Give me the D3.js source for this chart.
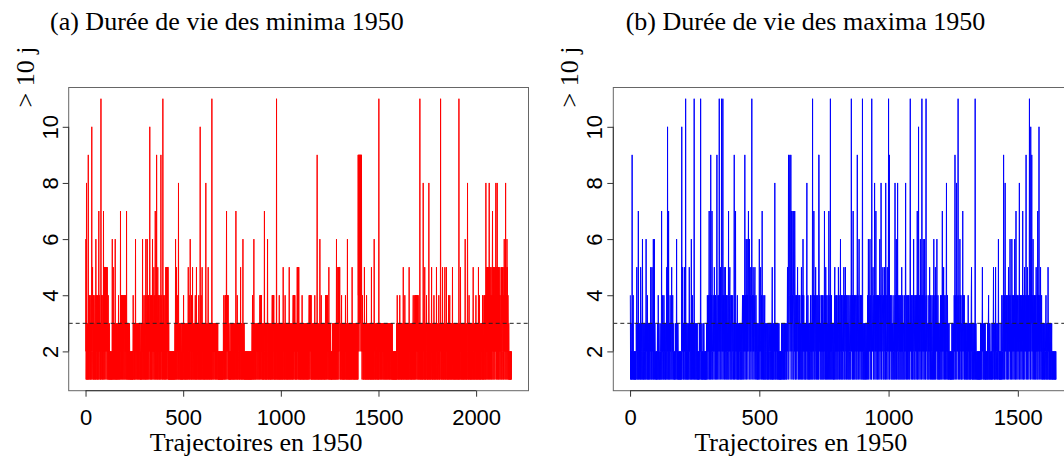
<!DOCTYPE html>
<html><head><meta charset="utf-8">
<script src="https://cdn.jsdelivr.net/npm/d3@7"></script>
<style>html,body{margin:0;padding:0;background:#fff;overflow:hidden}</style>
</head><body><svg id="chart" width="1064" height="457"></svg>
<script>
// Lifetime (days) of each minima trajectory, 1950
const minimaValues = [
2,6,1,2,8,1,2,3,1,2,1,3,2,9,1,4,2,1,4,2,3,1,4,2,1,3,2,4,1,2,3,10,1,2,4,5,2,1,3,4,1,2,4,3,1,2,3,1,4,2,
1,3,6,2,1,4,2,3,1,2,4,1,2,3,1,4,2,7,1,3,2,4,4,1,2,3,1,2,11,2,1,4,3,2,4,1,3,2,1,4,2,7,1,5,2,5,4,1,5,5,
2,5,4,1,5,2,5,3,5,1,5,2,3,1,2,4,1,3,2,1,2,3,1,2,1,2,1,1,2,1,2,1,1,2,1,2,6,1,2,3,1,5,2,1,3,2,1,3,2,1,
3,6,1,2,3,1,2,1,3,2,1,3,2,1,2,3,1,2,4,1,2,3,1,3,2,1,3,2,7,1,3,2,4,1,4,2,3,4,1,4,2,4,1,3,4,2,1,4,3,4,
1,4,2,3,4,1,3,2,1,7,2,3,1,2,3,1,2,3,1,2,3,1,2,1,3,2,1,2,1,1,2,1,2,1,1,2,1,2,1,2,1,2,1,4,2,3,1,2,3,1,
2,3,1,2,3,6,1,3,2,3,3,1,3,2,3,1,3,3,2,3,1,3,2,3,1,3,3,2,1,2,1,2,3,1,2,1,3,2,1,3,2,6,1,3,2,1,3,2,4,1,
3,2,1,3,4,2,1,3,6,1,2,3,1,4,2,6,1,3,2,4,1,3,4,2,1,3,2,3,10,1,2,3,4,1,3,2,1,4,2,3,1,3,6,2,4,1,3,2,4,5,
1,3,2,4,1,3,7,2,1,4,3,2,1,9,2,4,3,1,2,5,1,3,2,4,1,3,4,2,1,3,2,4,1,3,2,9,1,3,2,4,4,1,2,3,1,11,2,3,1,4,
2,3,3,1,2,4,1,3,2,1,5,2,5,4,1,5,3,5,2,5,1,5,5,2,1,3,1,2,1,2,1,2,1,1,2,1,2,1,2,1,2,1,1,2,1,2,1,2,1,2,
1,2,1,1,2,1,2,3,1,2,6,1,3,2,1,5,2,3,1,4,2,3,1,2,3,8,1,3,2,1,3,2,3,1,2,3,1,2,1,3,2,1,2,1,2,3,1,2,1,3,
2,4,1,3,2,1,3,2,1,3,2,1,3,2,1,2,3,1,2,3,1,2,3,1,3,5,2,1,3,2,4,1,3,2,1,6,2,3,1,2,3,1,4,2,1,3,2,5,1,3,
2,1,3,2,3,1,2,3,1,2,3,4,1,2,3,1,2,5,1,3,2,1,3,3,2,1,3,2,1,4,2,3,1,2,3,1,10,2,1,3,2,4,1,3,2,1,5,2,3,1,
2,3,1,3,2,1,3,2,1,3,2,1,3,2,1,8,2,3,1,2,3,1,2,3,1,2,3,5,1,2,3,1,2,3,1,2,3,2,1,3,2,1,3,2,1,3,11,2,1,3,
2,3,1,3,2,3,1,3,3,2,3,1,3,2,3,1,3,2,3,1,3,2,3,1,3,2,3,1,2,1,2,1,2,1,1,2,1,2,1,2,1,1,2,1,2,1,2,1,1,2,
1,2,1,2,1,3,2,4,1,3,2,1,3,2,4,1,4,2,4,1,4,7,2,4,1,4,3,4,2,4,1,3,2,1,3,2,1,2,1,2,1,2,1,3,2,1,3,2,1,3,
2,1,3,2,1,3,2,1,3,2,1,3,2,1,3,2,1,3,2,7,1,3,2,1,3,2,4,1,3,2,1,3,3,2,1,3,2,1,3,2,1,3,2,5,1,3,2,1,3,2,
1,3,2,1,3,6,2,1,3,2,1,3,2,1,2,1,2,1,1,2,1,2,1,2,1,1,2,1,2,1,2,1,1,2,1,2,1,2,1,1,2,1,2,1,2,1,1,2,1,2,
1,2,3,1,4,2,1,3,2,1,3,6,2,1,3,2,1,3,3,2,1,3,2,1,3,3,2,3,1,3,2,3,1,3,2,3,1,3,2,3,1,3,4,2,4,1,4,3,4,2,
4,1,3,2,1,3,2,1,3,2,1,3,2,1,3,7,2,1,3,2,1,3,2,1,3,2,1,3,2,1,3,6,2,1,3,2,1,3,2,3,1,2,3,1,2,3,1,2,3,1,
2,3,1,2,3,4,1,4,2,4,1,4,3,4,1,2,3,1,2,3,1,2,3,1,2,3,1,11,2,3,1,2,3,1,2,3,1,2,3,1,2,4,1,3,2,1,3,2,1,3,
2,1,3,2,1,3,2,1,3,2,1,5,2,3,1,2,3,1,2,3,1,4,2,3,1,2,3,1,2,3,1,3,2,1,3,2,1,3,2,1,3,2,5,1,3,2,1,3,2,1,
3,2,3,1,2,3,1,2,3,1,2,3,4,1,4,2,4,1,3,4,2,4,1,3,2,1,3,2,1,3,2,1,3,5,2,5,1,5,2,5,1,5,2,3,1,2,3,1,2,3,
1,2,3,1,2,3,1,2,4,1,3,2,1,3,2,1,3,2,1,3,2,1,3,2,1,3,2,1,3,2,1,3,2,1,3,2,1,3,2,1,3,2,1,3,4,2,4,1,4,3,
4,2,4,1,4,2,1,3,2,1,3,3,1,2,3,1,2,3,1,2,3,1,2,4,1,3,2,1,3,2,1,3,2,1,3,9,1,3,2,1,3,2,1,3,2,1,3,2,1,6,
2,1,3,2,1,3,4,1,3,2,1,3,2,1,3,2,3,1,2,3,1,2,3,1,2,3,1,2,4,1,4,2,4,1,3,4,2,4,4,1,3,2,1,3,2,5,1,3,2,1,
3,2,1,3,2,1,2,1,1,2,1,2,1,3,2,1,3,3,2,1,3,2,1,3,2,1,3,2,1,3,2,1,3,2,6,1,3,2,1,3,2,5,1,5,2,5,4,1,5,3,
5,5,2,3,1,2,3,1,2,3,4,1,3,2,1,3,2,1,3,2,1,3,2,1,3,2,1,3,2,1,4,2,3,1,2,3,1,2,3,1,6,2,1,3,2,1,3,2,1,3,
2,1,3,2,1,3,2,1,3,2,1,3,2,1,5,2,3,1,2,3,1,2,3,1,2,3,1,2,3,1,2,3,1,2,3,1,2,3,1,2,3,1,2,3,1,9,4,9,2,9,
9,3,9,4,9,2,9,9,3,9,4,9,9,2,3,1,3,4,2,3,1,2,3,1,2,3,1,5,2,3,1,2,3,1,2,3,1,2,4,1,3,2,1,3,2,1,3,2,1,3,
2,3,1,2,3,1,2,3,1,2,3,1,2,5,1,3,2,1,3,2,1,3,2,1,3,2,1,6,2,3,1,2,3,1,2,3,1,2,3,3,1,2,3,1,2,3,1,2,3,1,
2,11,1,3,2,3,1,3,2,3,1,3,2,3,1,3,2,3,1,3,2,3,1,3,2,3,1,2,3,1,3,2,3,1,3,2,1,3,2,3,1,3,2,3,1,3,2,1,3,2,
3,1,3,2,3,1,2,3,1,3,2,3,1,2,3,1,3,2,1,2,3,1,2,1,2,1,1,2,1,2,1,2,1,1,2,1,2,1,2,1,2,1,3,2,1,4,2,3,1,2,
3,1,2,3,1,2,3,1,4,2,3,1,2,3,1,3,2,1,3,2,1,3,2,1,3,2,5,1,3,2,1,3,2,1,4,2,3,1,2,3,1,2,3,1,2,3,1,2,3,1,
2,3,1,2,3,1,5,2,3,1,2,3,1,2,3,1,2,3,1,2,3,1,2,3,1,2,3,4,1,3,2,1,3,2,1,4,2,4,1,4,3,4,1,4,2,4,3,1,4,2,
4,1,4,2,3,1,2,3,1,2,3,11,1,3,2,1,3,2,1,3,2,1,3,2,1,3,2,1,8,2,3,1,2,3,1,2,5,1,3,2,1,3,2,1,3,4,2,1,3,2,
1,3,2,1,3,2,1,8,2,3,1,2,3,1,2,3,1,2,3,1,3,5,2,1,3,2,1,3,2,1,3,2,1,4,2,3,1,2,3,1,2,3,1,2,3,1,5,2,3,1,
2,3,1,2,3,1,2,3,4,1,3,2,1,3,2,1,3,11,2,3,1,2,3,1,2,3,1,5,2,3,1,2,3,1,2,3,1,2,3,5,1,3,2,1,3,2,1,5,2,3,
1,2,3,1,2,3,1,2,4,1,3,2,1,3,4,2,1,3,2,1,3,2,1,3,2,1,3,2,5,1,3,2,1,3,2,1,3,2,1,3,3,1,2,3,1,2,3,1,2,3,
1,2,3,1,2,3,1,2,3,1,2,11,1,3,2,1,3,2,1,5,2,3,1,2,3,1,2,3,1,2,3,1,2,3,1,2,3,1,2,3,1,2,3,6,1,3,2,1,3,2,
1,3,2,1,3,8,2,1,3,2,1,3,2,4,1,3,2,1,3,2,1,3,2,1,3,2,1,3,2,1,3,2,1,3,5,2,1,3,2,1,3,2,1,3,2,1,3,2,4,1,
3,2,1,3,2,1,3,2,1,3,2,5,1,3,2,1,4,2,1,3,2,1,3,2,1,3,2,3,1,2,3,1,4,2,1,3,2,1,3,4,2,1,3,4,2,1,4,3,1,8,
2,3,5,1,3,4,2,5,1,5,2,4,5,1,4,2,8,1,5,3,2,5,1,4,3,2,5,1,3,4,2,1,5,7,2,4,1,5,4,2,5,1,5,2,4,3,1,5,2,4,
8,2,5,1,3,5,2,8,1,5,3,2,4,1,5,2,5,1,3,4,2,5,1,3,3,2,4,1,3,5,2,1,4,3,5,2,1,3,4,2,1,5,3,6,2,4,1,3,5,2,
8,1,5,2,3,4,1,6,2,5,3,1,4,3,2,1,3,2,1,2,1,2,2,1,2,1,2,1,2,1,2
];
// Lifetime (days) of each maxima trajectory, 1950
const maximaValues = [
4,1,2,3,1,2,1,9,1,3,2,4,1,2,1,2,1,2,1,2,1,2,1,3,2,5,1,3,2,1,3,7,1,2,3,3,1,2,3,1,5,2,1,3,2,1,3,6,1,2,
3,1,2,3,1,2,3,1,2,3,1,6,2,3,1,2,4,1,3,2,1,3,2,1,3,2,1,3,2,5,1,3,2,1,5,2,3,1,2,6,1,3,2,6,1,3,2,1,2,2,
1,2,1,2,1,3,2,1,4,2,1,3,2,1,2,2,1,2,3,1,2,7,1,3,2,4,1,3,2,1,4,2,3,1,2,3,1,2,3,1,3,5,2,1,10,2,3,1,7,2,
1,3,2,1,4,2,3,1,2,3,5,1,3,2,4,1,3,2,1,2,2,1,2,1,3,2,1,3,2,6,1,3,2,1,3,2,1,2,1,2,1,2,2,1,2,1,2,1,2,10,
1,3,5,2,3,1,3,2,1,5,2,3,1,2,11,1,3,2,1,3,3,1,2,3,1,2,3,1,5,2,3,1,2,3,1,2,6,1,3,2,4,1,3,2,1,3,2,11,1,3,
2,1,3,3,1,2,3,1,2,3,1,2,1,2,1,2,1,3,2,1,3,2,11,1,3,2,1,2,1,2,1,3,2,1,3,3,1,2,1,2,1,2,1,2,1,3,2,1,4,2,
3,1,4,2,3,7,1,3,4,2,1,9,3,2,4,1,7,3,2,1,4,4,2,3,1,5,3,2,4,1,4,2,3,1,4,9,2,3,1,4,2,3,4,1,11,3,2,4,1,5,
3,2,4,11,1,4,3,2,11,1,3,4,2,5,1,3,4,2,5,1,3,2,4,1,3,4,2,1,3,2,7,1,3,2,4,5,1,3,2,4,1,4,3,2,1,3,4,2,3,1,
2,3,9,1,3,2,4,7,1,3,2,3,1,2,4,1,3,2,1,3,2,1,3,2,3,1,2,3,1,2,3,1,2,3,4,1,3,2,4,1,3,4,2,9,1,4,3,2,6,1,
4,3,6,2,4,1,5,7,3,2,4,6,1,3,4,2,5,1,3,4,11,2,3,4,1,5,3,2,4,1,3,4,5,2,3,1,4,2,3,1,2,3,1,2,3,1,2,3,1,6,
2,3,1,4,5,2,3,1,4,2,7,1,3,2,4,1,3,2,1,3,4,1,2,3,1,2,3,3,1,2,3,1,2,3,1,2,3,1,2,3,3,1,2,3,1,2,3,1,3,5,
1,3,2,1,3,2,1,3,2,8,1,3,2,1,3,2,3,1,2,3,1,2,3,1,2,3,1,2,1,2,1,2,1,2,1,3,2,1,3,2,1,3,2,1,3,2,1,3,2,1,
3,2,3,1,2,3,1,3,5,2,3,4,9,1,3,4,7,9,2,4,3,9,1,7,4,2,7,3,4,1,3,4,7,1,3,2,7,4,4,1,4,3,2,4,1,3,3,5,2,4,
1,3,2,4,1,3,4,2,3,1,2,3,5,1,3,2,4,1,6,3,2,4,1,3,2,3,1,2,3,1,3,2,4,8,1,3,2,4,1,3,2,1,3,2,1,3,2,4,1,3,
2,3,1,4,2,11,1,3,4,2,7,1,3,4,2,1,3,5,2,3,1,4,2,3,1,4,2,3,1,9,9,2,3,4,1,3,2,3,1,4,2,3,1,4,2,3,1,3,2,4,
1,7,3,2,4,1,5,2,3,1,4,2,3,1,2,4,3,1,7,2,3,1,4,2,11,1,3,2,4,1,2,3,3,1,2,3,1,2,3,1,4,5,1,3,2,4,1,4,2,3,
1,3,2,4,1,5,3,2,4,1,3,2,4,6,1,3,2,4,1,4,3,2,1,4,3,2,5,1,3,4,2,1,5,3,2,4,1,3,4,2,3,1,4,2,3,1,4,3,2,1,
3,4,2,1,3,11,2,4,3,1,4,2,7,1,3,4,2,4,1,3,2,4,4,1,3,2,4,1,9,3,2,4,1,3,4,6,2,3,1,4,2,4,3,1,4,2,3,1,11,2,
3,1,2,3,1,2,3,1,2,3,1,2,3,3,1,2,3,1,4,2,3,6,1,4,3,2,4,6,1,3,4,2,3,1,11,4,3,2,4,5,1,3,4,2,3,8,1,4,3,2,
7,1,4,3,2,4,1,4,3,2,4,1,3,2,4,6,1,3,4,2,8,3,1,4,2,3,4,5,1,3,4,2,1,5,3,2,4,1,8,3,4,2,1,3,5,2,4,1,3,11,
2,4,9,1,3,4,2,3,4,1,3,2,4,1,3,2,3,1,2,3,4,1,3,2,8,1,4,3,2,6,1,3,4,2,8,1,3,4,2,1,3,2,4,1,3,2,4,1,3,2,
5,1,3,2,4,1,3,3,2,1,4,2,3,1,4,8,2,3,1,4,2,3,1,4,3,2,4,1,4,2,3,1,4,11,2,3,4,1,3,4,2,3,1,4,2,3,6,1,4,3,
2,1,4,3,2,4,1,3,4,2,7,1,4,3,2,10,1,4,3,2,4,1,6,3,2,4,1,3,11,2,4,3,1,6,2,4,3,1,6,2,4,3,1,4,11,2,3,4,1,3,
3,2,1,3,2,4,1,3,5,2,3,1,4,2,3,1,2,4,3,1,2,3,4,1,6,2,3,1,4,2,5,1,3,4,2,3,6,1,3,2,4,1,3,2,1,3,2,1,3,2,
4,1,3,2,4,1,3,7,2,4,1,3,5,2,4,1,3,2,4,1,3,2,4,8,1,3,2,4,1,3,3,1,2,3,1,2,2,1,2,1,2,1,2,1,3,2,1,3,3,1,
2,3,1,4,2,3,9,1,3,4,2,3,8,1,4,3,2,4,11,1,3,4,2,3,1,6,2,4,3,1,2,3,1,4,2,3,7,1,3,4,2,3,4,1,3,2,1,3,2,3,
1,2,3,1,2,3,1,4,2,3,1,2,3,1,3,2,1,3,2,4,5,1,3,2,1,3,3,1,2,3,1,2,3,1,11,2,1,3,2,1,2,2,1,2,1,2,1,2,1,2,
1,2,1,2,1,3,2,1,3,2,1,3,5,2,3,1,2,3,1,2,3,1,2,3,1,2,1,2,2,1,2,1,3,2,1,3,4,1,3,2,1,3,2,1,2,2,1,2,1,3,
2,1,3,2,3,5,1,3,2,1,3,2,1,5,2,3,1,2,3,3,1,2,3,1,6,2,3,1,2,1,2,1,2,1,3,2,1,4,3,1,2,3,4,1,9,3,2,4,1,3,
8,2,3,4,1,3,4,2,3,1,4,3,2,5,1,3,4,2,3,6,1,3,4,2,3,1,6,3,2,4,1,3,4,2,3,1,3,6,2,4,1,3,7,2,4,1,3,2,4,4,
1,3,2,4,3,8,1,4,3,2,4,1,4,3,2,4,1,3,7,2,4,1,3,4,2,5,1,3,4,2,3,9,1,4,3,2,5,1,4,3,2,4,1,3,11,2,4,3,1,10,
2,4,3,9,1,4,3,2,6,1,3,4,2,4,1,3,2,4,1,3,5,2,3,1,4,2,7,1,3,4,2,10,1,3,4,2,3,5,1,3,2,4,1,3,2,1,3,2,1,3,
2,3,1,2,3,1,2,3,4,1,3,2,1,3,2,1,5,2,3,1,2,3,1,2,3,1,2,3,1,2,3,1,2,1,2,2,1,2,1,2,2,1,2,1,2,1,2,1
];
const minimaTicks = [0, 500, 1000, 1500, 2000];
const maximaTicks = [0, 500, 1000, 1500];
const yTicks = [2, 4, 6, 8, 10];
const thresholdValue = [3];
const panelTitles = ["(a) Durée de vie des minima 1950", "(b) Durée de vie des maxima 1950"];
const xTitle = "Trajectoires en 1950";
const yTitle = "> 10 j";

const serif = "'Liberation Serif','Times New Roman',serif";
const sans = "'Liberation Sans',Arial,Helvetica,sans-serif";

const svg = d3.select("#chart");
svg.append("rect").attr("width", 1064).attr("height", 457).attr("fill", "#fff");

const boxW = 459.8, boxTop = 87.5, boxBottom = 390.7;
const y = d3.scaleLinear().domain([0.6, 11.4]).range([boxBottom, boxTop]);

const panels = [
  {values: minimaValues, ticks: minimaTicks, color: "#ff0000", left: 68.7, title: panelTitles[0], titleX: 50},
  {values: maximaValues, ticks: maximaTicks, color: "#0000ff", left: 613.3, title: panelTitles[1], titleX: 625.7}
];

panels.forEach(p => {
  const n = p.values.length;
  const pad = 0.04 * (n - 1);
  const x = d3.scaleLinear().domain([1 - pad, n + pad]).range([p.left, p.left + boxW]);
  const g = svg.append("g");

  const line = d3.line().x((d, i) => x(i + 1)).y(d => y(d));
  g.append("path").datum(p.values).attr("d", line)
    .attr("fill", "none").attr("stroke", p.color).attr("stroke-width", 1);

  g.selectAll("line.thr").data(thresholdValue).enter().append("line").attr("class", "thr")
    .attr("x1", p.left).attr("x2", p.left + boxW)
    .attr("y1", d => y(d)).attr("y2", d => y(d))
    .attr("stroke", "#222").attr("stroke-width", 1).attr("stroke-dasharray", "4,3");

  g.append("rect").attr("x", p.left).attr("y", boxTop)
    .attr("width", boxW).attr("height", boxBottom - boxTop)
    .attr("fill", "none").attr("stroke", "#666").attr("stroke-width", 1);

  // x axis
  const xa = g.append("g").attr("transform", `translate(0,${boxBottom})`)
    .call(d3.axisBottom(x).tickValues(p.ticks).tickSize(6).tickSizeOuter(0).tickFormat(d3.format("d")));
  xa.select(".domain").attr("d", `M${x(p.ticks[0])},0H${x(p.ticks[p.ticks.length - 1])}`)
    .attr("stroke", "#333");
  xa.selectAll(".tick line").attr("stroke", "#333");
  xa.selectAll(".tick text").attr("y", 34.3).attr("dy", null)
    .attr("font-family", sans).attr("font-size", 22).attr("fill", "#000");

  // y axis
  const ya = g.append("g").attr("transform", `translate(${p.left},0)`)
    .call(d3.axisLeft(y).tickValues(yTicks).tickSize(6).tickSizeOuter(0));
  ya.select(".domain").attr("d", `M0,${y(yTicks[0])}V${y(yTicks[yTicks.length - 1])}`)
    .attr("stroke", "#333");
  ya.selectAll(".tick line").attr("stroke", "#333");
  ya.selectAll(".tick text").attr("x", 0).attr("y", 0).attr("dy", null)
    .attr("transform", "translate(-11,0) rotate(-90)").attr("text-anchor", "middle")
    .attr("font-family", sans).attr("font-size", 22).attr("fill", "#000");

  // titles
  svg.append("text").attr("x", p.titleX).attr("y", 30)
    .attr("font-family", serif).attr("font-size", 26).attr("fill", "#000").text(p.title);
  svg.append("text").attr("x", p.left + 187.5).attr("y", 450.5).attr("text-anchor", "middle")
    .attr("font-family", serif).attr("font-size", 26).attr("fill", "#000").text(xTitle);
  svg.append("text").attr("transform", `translate(${p.left - 35},77) rotate(-90)`)
    .attr("text-anchor", "middle")
    .attr("font-family", serif).attr("font-size", 26).attr("fill", "#000").text(yTitle);
});
</script>
</body></html>
